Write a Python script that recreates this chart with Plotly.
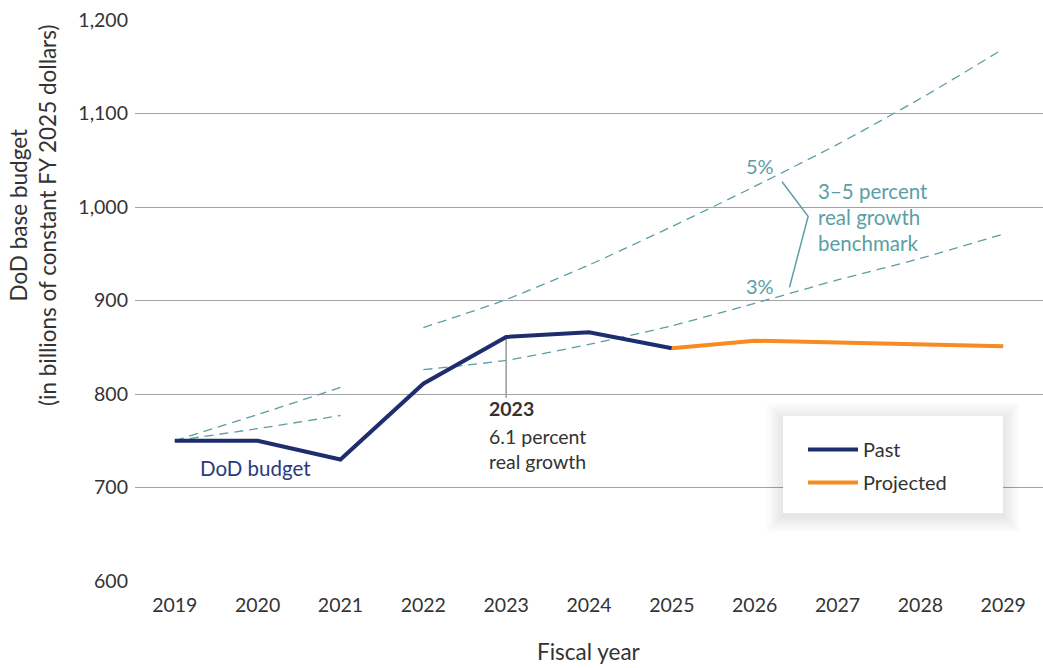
import plotly.graph_objects as go

# ---- data ----
past_years = [2019, 2020, 2021, 2022, 2023, 2024, 2025]
past_values = [750, 750, 730, 811, 861, 866, 849]
proj_years = [2025, 2026, 2027, 2028, 2029]
proj_values = [849, 857, 855, 853, 851]

bench1_years = [2019, 2020, 2021]
bench1_5pct = [750, 778, 807]
bench1_3pct = [750, 763, 777]

bench2_years = [2022, 2023, 2024, 2025, 2026, 2027, 2028, 2029]
bench2_5pct = [871, 901, 938, 979, 1022, 1067, 1116, 1169]
bench2_3pct = [826, 836, 853, 873, 897, 922, 945, 971]

x_ticks = list(range(2019, 2030))
y_ticks = [600, 700, 800, 900, 1000, 1100, 1200]
y_tick_labels = ["600", "700", "800", "900", "1,000", "1,100", "1,200"]

NAVY = "#1e2d6e"
ORANGE = "#f68b1f"
TEAL = "#5b9ea5"
GRID = "#a3a3a3"
TEXT = "#333333"
FONT = "Lato"

fig = go.Figure()

dash = "9px,6px"
for xs, ys in [(bench1_years, bench1_5pct), (bench1_years, bench1_3pct),
               (bench2_years, bench2_5pct), (bench2_years, bench2_3pct)]:
    fig.add_trace(go.Scatter(x=xs, y=ys, mode="lines", showlegend=False,
                             line=dict(color=TEAL, width=1.3, dash=dash, shape="spline", smoothing=0.6),
                             hoverinfo="skip"))

# bracket connector
fig.add_trace(go.Scatter(x=[2026.33, 2026.645, 2026.42], y=[1027, 990, 914], mode="lines",
                         showlegend=False, line=dict(color=TEAL, width=1.5), hoverinfo="skip"))

# 2023 callout line
fig.add_trace(go.Scatter(x=[2023, 2023], y=[past_values[4], 796], mode="lines", showlegend=False,
                         line=dict(color="#999999", width=1.5), hoverinfo="skip"))

fig.add_trace(go.Scatter(x=past_years, y=past_values, mode="lines", name="Past",
                         line=dict(color=NAVY, width=4), legendgroup="a"))
fig.add_trace(go.Scatter(x=proj_years, y=proj_values, mode="lines", name="Projected",
                         line=dict(color=ORANGE, width=4), legendgroup="b"))

# legend box with soft shadow (paper coords)
L, R, T, B = 783, 1003, 416, 513
def px_to_paper(px, py):
    return (px - 135) / 908, (581 - py) / 561
for g in range(16, 0, -2):
    x0, y0 = px_to_paper(L - g, B + g + 3)
    x1, y1 = px_to_paper(R + g, T - g + 3)
    fig.add_shape(type="rect", xref="paper", yref="paper", x0=x0, y0=y0, x1=x1, y1=y1,
                  fillcolor="rgba(0,0,0,0.013)", line=dict(width=0), layer="above")
x0, y0 = px_to_paper(L, B)
x1, y1 = px_to_paper(R, T)
fig.add_shape(type="rect", xref="paper", yref="paper", x0=x0, y0=y0, x1=x1, y1=y1,
              fillcolor="white", line=dict(width=0), layer="above")

ann = []
def add_text(x, y, text, color=TEXT, size=20, xanchor="center"):
    ann.append(dict(x=x, y=y, text=text, showarrow=False, xref="x", yref="y",
                    xanchor=xanchor, yanchor="middle",
                    font=dict(family=FONT, size=size, color=color)))

add_text(2019.98, 721, "DoD budget", color="#2b3a7e", size=20.5)
add_text(2022.77, 784, "<b>2023</b>", xanchor="left", size=19.5)
add_text(2022.77, 755, "6.1 percent", xanchor="left", size=19.5)
add_text(2022.77, 728, "real growth", xanchor="left", size=19.5)
add_text(2026.07, 1044, "5%", color=TEAL)
add_text(2026.07, 915, "3%", color=TEAL)
add_text(2026.74, 1017, "3–5 percent", color=TEAL, xanchor="left", size=20.5)
add_text(2026.74, 989, "real growth", color=TEAL, xanchor="left", size=20.5)
add_text(2026.74, 961, "benchmark", color=TEAL, xanchor="left", size=20.5)
ann.append(dict(x=(33 - 135) / 908, y=(581 - 215) / 561, xref="paper", yref="paper",
                text="DoD base budget<br>(in billions of constant FY 2025 dollars)",
                showarrow=False, textangle=-90, xanchor="center", yanchor="middle",
                font=dict(family=FONT, size=22.5, color=TEXT)))
ann.append(dict(x=0.5, y=(581 - 651) / 561, xref="paper", yref="paper", text="Fiscal year",
                showarrow=False, xanchor="center", yanchor="middle",
                font=dict(family=FONT, size=22.5, color=TEXT)))

fig.update_layout(
    width=1043, height=668,
    margin=dict(l=135, r=0, t=20, b=87),
    paper_bgcolor="white", plot_bgcolor="white",
    font=dict(family=FONT, size=20, color=TEXT),
    annotations=ann,
    legend=dict(x=(803 - 135) / 908, y=(581 - 430) / 561, xanchor="left", yanchor="top",
                bgcolor="rgba(0,0,0,0)", font=dict(size=20, color=TEXT),
                itemwidth=50, traceorder="grouped", tracegroupgap=4),
    xaxis=dict(range=[2018.52, 2029.48], tickvals=x_ticks, showgrid=False, zeroline=False,
               showline=False, ticks="", tickfont=dict(size=19.5), ticklabelstandoff=10),
    yaxis=dict(range=[600, 1200], tickvals=y_ticks, ticktext=y_tick_labels, showgrid=True,
               gridcolor=GRID, gridwidth=1.3, zeroline=False, showline=False, ticks="",
               ticklabelstandoff=6, tickfont=dict(size=19.5)),
)

fig.write_html("out.html", post_script="document.body.style.margin='0px';",
               config={"displayModeBar": False})
